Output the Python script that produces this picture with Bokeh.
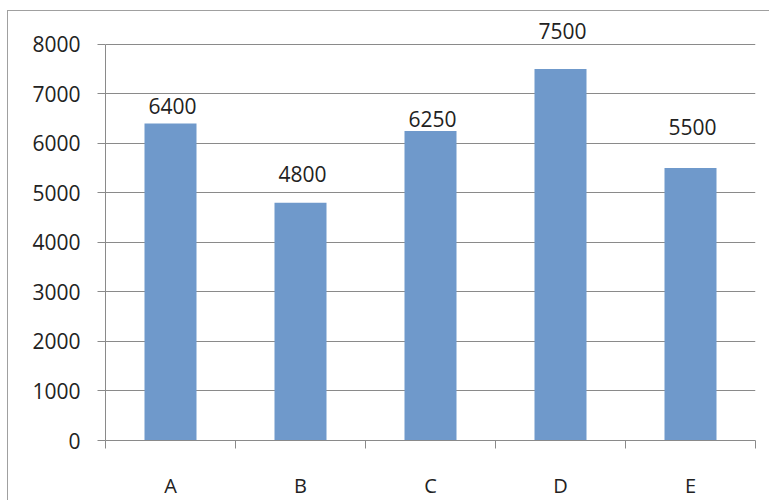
from bokeh.plotting import figure
from bokeh.models import ColumnDataSource, LabelSet, FixedTicker, Range1d
from bokeh.core.properties import value
from bokeh.embed import file_html
from bokeh.resources import INLINE

categories = ["A", "B", "C", "D", "E"]
values = [6400, 4800, 6250, 7500, 5500]
y_ticks = [0, 1000, 2000, 3000, 4000, 5000, 6000, 7000, 8000]

# style: pixel gap between each bar's top and its value label (as placed in the original)
label_gaps = [10, 21, 4, 30, 33]

n = len(categories)
xs = [i + 0.5 for i in range(n)]
src = ColumnDataSource(dict(x=xs, top=values, label=[str(v) for v in values],
                            gap=label_gaps))

FONT = "Open Sans"
GRID = "#8a8a8a"

# headroom above the top tick so value labels are not clipped
p = figure(width=762, height=490, output_backend="svg", toolbar_location=None,
           x_range=Range1d(0, n), y_range=Range1d(0, 8500),
           min_border_left=97, min_border_right=15, min_border_top=8, min_border_bottom=60)
p.outline_line_color = None
p.background_fill_color = "white"
p.border_fill_color = "white"

p.vbar(x="x", top="top", bottom=0, width=0.4, source=src,
       fill_color="#6F99CB", line_color=None)

labels = LabelSet(x="x", y="top", text="label", source=src, text_align="center",
                  text_baseline="alphabetic", y_offset="gap", x_offset=2,
                  text_font=value(FONT), text_font_size="21px", text_color="#222222")
p.add_layout(labels)

# y axis
p.yaxis.ticker = FixedTicker(ticks=y_ticks, minor_ticks=[])
p.yaxis.bounds = (y_ticks[0], y_ticks[-1])
p.yaxis.axis_line_color = GRID
p.yaxis.major_tick_line_color = GRID
p.yaxis.major_tick_out = 8
p.yaxis.major_tick_in = 0
p.yaxis.minor_tick_line_color = None
p.yaxis.major_label_standoff = 17
p.yaxis.major_label_text_font = FONT
p.yaxis.major_label_text_font_size = "21px"
p.yaxis.major_label_text_color = "#222222"

# x axis: labels at centers, ticks at category boundaries
p.xaxis.ticker = FixedTicker(ticks=xs, minor_ticks=list(range(n + 1)))
p.xaxis.major_label_overrides = {x: c for x, c in zip(xs, categories)}
p.xaxis.axis_line_color = GRID
p.xaxis.major_tick_line_color = None
p.xaxis.major_tick_out = 0
p.xaxis.major_tick_in = 0
p.xaxis.minor_tick_line_color = GRID
p.xaxis.minor_tick_out = 8
p.xaxis.minor_tick_in = 0
p.xaxis.major_label_standoff = 23
p.xaxis.major_label_text_font = FONT
p.xaxis.major_label_text_font_size = "20px"
p.xaxis.major_label_text_color = "#222222"

p.xgrid.grid_line_color = None
p.ygrid.ticker = FixedTicker(ticks=y_ticks)
p.ygrid.grid_line_color = GRID
p.ygrid.grid_line_width = 1

p.styles = {"margin-left": "7px", "margin-top": "10px",
            "border-top": "1px solid #a0a0a0", "border-left": "1px solid #a0a0a0"}

open("out.html", "w").write(file_html(p, INLINE))
